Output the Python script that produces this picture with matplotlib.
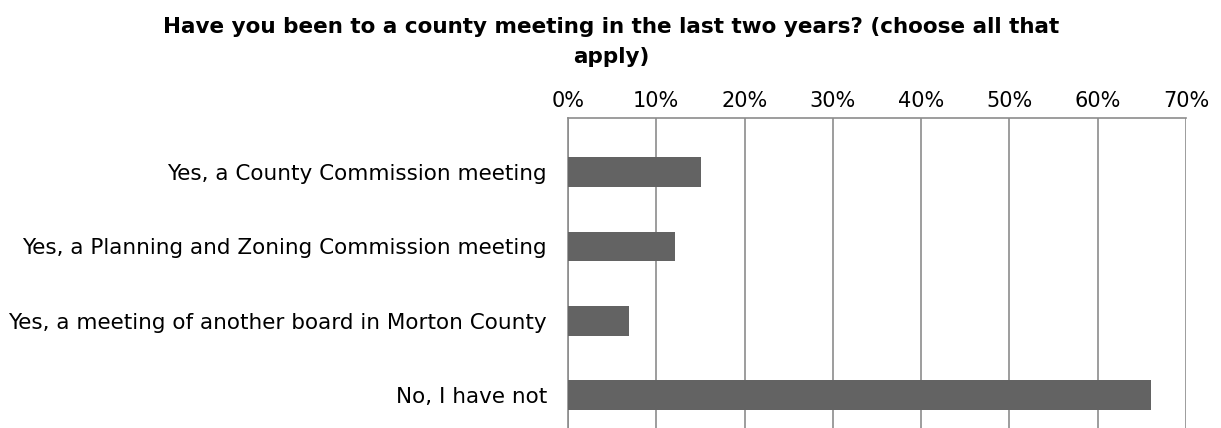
import numpy as np
import matplotlib.pyplot as plt
from matplotlib.ticker import PercentFormatter

# Respuestas a la encuesta
categorias = [
    "Yes, a County Commission meeting",
    "Yes, a Planning and Zoning Commission meeting",
    "Yes, a meeting of another board in Morton County",
    "No, I have not",
]
porcentajes = [15.1, 12.1, 6.9, 66.0]
ticks_x = [0, 10, 20, 30, 40, 50, 60, 70]

titulo = "Have you been to a county meeting in the last two years? (choose all that\napply)"

plt.rcParams['font.family'] = ['DejaVu Sans']

fig = plt.figure(figsize=(12.21, 4.28), dpi=100)
ax = fig.add_axes([568 / 1221, 0.0, (1186 - 568) / 1221, 1 - 118 / 428])

y = np.arange(len(categorias))
ax.barh(y, porcentajes, height=0.4, color="#636363", zorder=3)

ax.set_xlim(0, 70)
ax.set_ylim(3.44, -0.725)
ax.set_xticks(ticks_x)
ax.xaxis.set_major_formatter(PercentFormatter(decimals=0))
ax.xaxis.tick_top()
ax.tick_params(axis="x", length=0, pad=5, labelsize=15)
ax.set_yticks(y)
ax.set_yticklabels(categorias)
ax.tick_params(axis="y", length=0, pad=15, labelsize=15.5)

ax.grid(axis="x", color="#8c8c8c", linewidth=1.2, zorder=0)
for lado in ["right", "bottom"]:
    ax.spines[lado].set_visible(False)
for lado in ["top", "left"]:
    ax.spines[lado].set_color("#8c8c8c")
    ax.spines[lado].set_linewidth(1.2)

fig.text(611 / 1221, 1 - 42 / 428, titulo, ha="center", va="center",
         fontsize=15.5, fontweight="bold", linespacing=1.6)

fig.savefig("out.png", dpi=100)
